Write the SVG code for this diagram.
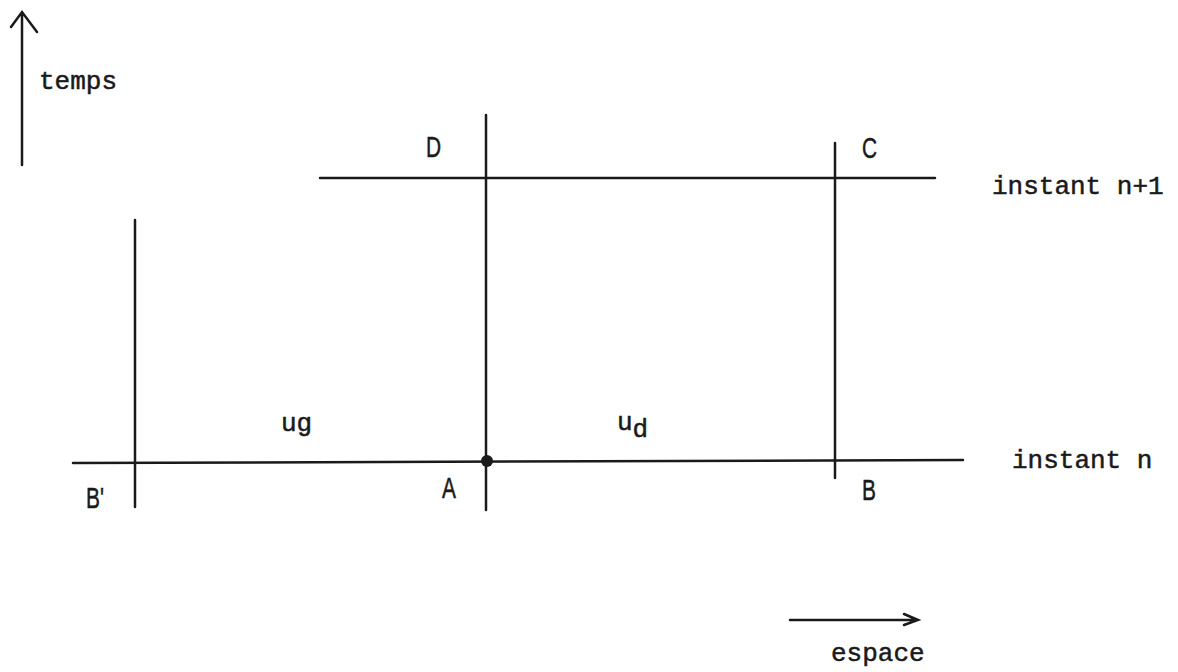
<svg xmlns="http://www.w3.org/2000/svg" width="1178" height="672" viewBox="0 0 1178 672">
<style>
.ln{stroke:#1a1a1a;stroke-width:2.5;fill:none;stroke-linecap:round}
.mono{font-family:"Liberation Mono","DejaVu Sans Mono",monospace;font-size:26px;fill:#1a1a1a;stroke:#1a1a1a;stroke-width:0.5}
.lab{font-family:"Liberation Sans","DejaVu Sans",sans-serif;font-size:29px;fill:#1a1a1a;stroke:#1a1a1a;stroke-width:0.5}
</style>
<rect width="1178" height="672" fill="#fff"/>
<g id="connectors">
<path class="ln" d="M22,165 L22,12 M11,27 L22,12 L37,32"/>
<line class="ln" x1="320" y1="178" x2="935" y2="178"/>
<line class="ln" x1="73" y1="463" x2="963" y2="460"/>
<line class="ln" x1="486" y1="115" x2="486" y2="510"/>
<line class="ln" x1="835" y1="143" x2="835" y2="478"/>
<line class="ln" x1="135" y1="220" x2="135" y2="507"/>
<path class="ln" d="M790,620 L916,620 M904,614 L918,620 L904,625" stroke-width="3"/>
</g>
<g id="temps"><text class="mono" x="39" y="89">temps</text></g>
<g id="espace"><text class="mono" x="831" y="661">espace</text></g>
<g id="instant-n1"><text class="mono" x="992" y="194">instant n+1</text></g>
<g id="instant-n"><text class="mono" x="1012" y="468">instant n</text></g>
<g id="ug"><text class="mono" x="281" y="431">ug</text></g>
<g id="ud"><text class="mono" x="617" y="430">u<tspan dy="7">d</tspan></text></g>
<g id="A"><circle cx="487" cy="461" r="6" fill="#1a1a1a"/><text class="lab" transform="translate(442,498) scale(0.72,1)">A</text></g>
<g id="B"><text class="lab" transform="translate(862,500) scale(0.72,1)">B</text></g>
<g id="Bp"><text class="lab" transform="translate(86,508) scale(0.72,1)">B'</text></g>
<g id="C"><text class="lab" transform="translate(862,158) scale(0.72,1)">C</text></g>
<g id="D"><text class="lab" transform="translate(426,157) scale(0.72,1)">D</text></g>
</svg>
